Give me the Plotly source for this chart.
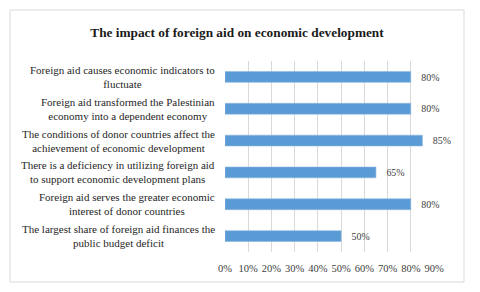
import plotly.graph_objects as go

categories = [
    "Foreign aid causes economic indicators to<br>fluctuate",
    "Foreign aid transformed the Palestinian<br>economy into a dependent economy",
    "The conditions of donor countries affect the<br>achievement of economic development",
    "There is a deficiency in utilizing foreign aid<br>to support economic development plans",
    "Foreign aid serves the greater economic<br>interest of donor countries",
    "The largest share of foreign aid finances the<br>public budget deficit",
]
values = [0.80, 0.80, 0.85, 0.65, 0.80, 0.50]
tick_vals = [0, 0.1, 0.2, 0.3, 0.4, 0.5, 0.6, 0.7, 0.8, 0.9]
tick_text = ["0%", "10%", "20%", "30%", "40%", "50%", "60%", "70%", "80%", "90%"]
title = "The impact of foreign aid on economic development"

# page body has an 8px default margin; size the figure to fit the window
OFF = 8
W, H = 480 - OFF, 292 - OFF
L, R, T, B = 217, 46, 53, 40
pw, ph = W - L - R, H - T - B

serif = "Liberation Serif"
txt_col = "#404040"

fig = go.Figure(go.Bar(
    y=categories, x=values, orientation="h",
    marker=dict(color="#5B9BD5", line=dict(color="#8DB8E3", width=0.6)),
    width=0.34,
    text=[f"{round(v*100)}%" for v in values],
    textposition="outside",
    texttemplate="   %{text}",
    textfont=dict(family=serif, size=11, color=txt_col),
    cliponaxis=False,
))

annotations = []
for c in categories:
    annotations.append(dict(
        x=0, y=c, xref="paper", yref="y", text=c, showarrow=False,
        xanchor="right", yanchor="middle", align="center", xshift=-8,
        font=dict(family=serif, size=11, color="#262626"),
    ))

def px_x(p):
    return (p - L) / pw

def px_y(p):
    return 1 - (p - T) / ph

fig.update_layout(
    width=W, height=H,
    margin=dict(l=L, r=R, t=T, b=B),
    paper_bgcolor="white", plot_bgcolor="white",
    font=dict(family=serif),
    showlegend=False,
    title=dict(text=f"<b>{title}</b>", x=(237 - OFF) / W, xanchor="center",
               y=1 - (32 - OFF) / H, yanchor="middle",
               font=dict(family=serif, size=13.3, color="#1a1a1a")),
    xaxis=dict(range=[0, 0.9], tickvals=tick_vals, ticktext=tick_text,
               showgrid=True, gridcolor="#D9D9D9", gridwidth=1, zeroline=False,
               showline=False, ticks="", ticklabelstandoff=8,
               tickfont=dict(family=serif, size=10.5, color=txt_col)),
    yaxis=dict(autorange="reversed", showticklabels=False, showgrid=False,
               zeroline=False, showline=False, ticks=""),
    annotations=annotations,
    bargap=0.66,
    shapes=[dict(type="rect", xref="paper", yref="paper",
                 x0=px_x(10 - OFF), x1=px_x(464 - OFF), y0=px_y(10 - OFF), y1=px_y(282 - OFF),
                 line=dict(color="#D9D9D9", width=1), fillcolor="rgba(0,0,0,0)", layer="below")],
)

fig.write_html("out.html")
